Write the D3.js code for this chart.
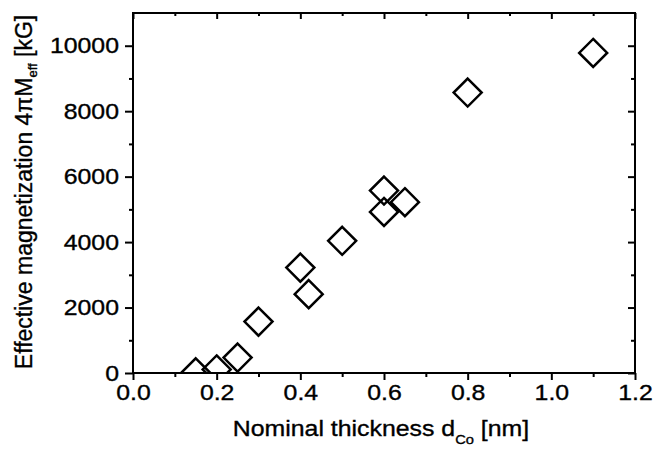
<!DOCTYPE html>
<html>
<head>
<meta charset="utf-8">
<script src="https://cdn.jsdelivr.net/npm/d3@7"></script>
<style>
  html, body { margin: 0; padding: 0; background: #fff; }
  svg { display: block; }
  text { font-family: "Liberation Sans", Arial, sans-serif; fill: #000; stroke: #000; stroke-width: 0.35px; }
</style>
</head>
<body>
<div id="chart"></div>
<script>
// thickness d_Co (nm) and effective magnetization 4piMeff (kG)
const thickness = [0.15, 0.20, 0.25, 0.30, 0.40, 0.42, 0.50, 0.60, 0.60, 0.65, 0.80, 1.10];
const magnetization = [20, 110, 470, 1570, 3220, 2410, 4040, 5575, 4920, 5220, 8570, 9780];

const xMajorTicks = [0, 0.2, 0.4, 0.6, 0.8, 1.0, 1.2];
const xMinorTicks = [0.1, 0.3, 0.5, 0.7, 0.9, 1.1];
const yMajorTicks = [0, 2000, 4000, 6000, 8000, 10000];
const yMinorTicks = [1000, 3000, 5000, 7000, 9000];

const width = 653, height = 450;
const margin = { top: 13, right: 18, bottom: 77, left: 133 };
const w = width - margin.left - margin.right;
const h = height - margin.top - margin.bottom;
const stretch = 1.13; // the scanned lettering is a bit wider than plain Arial

const svg = d3.select("#chart").append("svg")
    .attr("width", width)
    .attr("height", height);

const g = svg.append("g")
    .attr("transform", `translate(${margin.left},${margin.top})`);

const x = d3.scaleLinear().domain([0, 1.2]).range([0, w]);
const y = d3.scaleLinear().domain([0, 11000]).range([h, 0]);

function styleAxis(sel) {
    sel.selectAll(".domain").remove();
    sel.selectAll(".tick line").attr("stroke", "#000").attr("stroke-width", 2);
    sel.selectAll(".tick text").style("font-size", "22px").attr("fill", "#000");
}

// bottom axis
g.append("g").attr("transform", `translate(0,${h})`)
    .call(d3.axisBottom(x).tickValues(xMajorTicks).tickSize(7).tickPadding(4)
        .tickFormat(d3.format(".1f")))
    .call(styleAxis)
    .selectAll(".tick text")
    .attr("transform", `scale(${stretch},1)`);
g.append("g").attr("transform", `translate(0,${h})`)
    .call(d3.axisBottom(x).tickValues(xMinorTicks).tickSize(4).tickFormat(""))
    .call(styleAxis);

// left axis
g.append("g")
    .call(d3.axisLeft(y).tickValues(yMajorTicks).tickSize(8).tickPadding(6)
        .tickFormat(d3.format("d")))
    .call(styleAxis)
    .selectAll(".tick text")
    .attr("x", -14 / stretch)
    .attr("transform", `scale(${stretch},1)`);
g.append("g")
    .call(d3.axisLeft(y).tickValues(yMinorTicks).tickSize(4).tickFormat(""))
    .call(styleAxis);

// top axis, ticks pointing inward
g.append("g")
    .call(d3.axisTop(x).tickValues(xMajorTicks).tickSize(-6).tickFormat(""))
    .call(styleAxis);
g.append("g")
    .call(d3.axisTop(x).tickValues(xMinorTicks).tickSize(-3).tickFormat(""))
    .call(styleAxis);

// right axis, ticks pointing inward
g.append("g").attr("transform", `translate(${w},0)`)
    .call(d3.axisRight(y).tickValues(yMajorTicks).tickSize(-7).tickFormat(""))
    .call(styleAxis);
g.append("g").attr("transform", `translate(${w},0)`)
    .call(d3.axisRight(y).tickValues(yMinorTicks).tickSize(-4).tickFormat(""))
    .call(styleAxis);

// frame
g.append("rect")
    .attr("width", w)
    .attr("height", h)
    .attr("fill", "none")
    .attr("stroke", "#000")
    .attr("stroke-width", 2);

// clip the markers to the plot area
svg.append("defs").append("clipPath")
    .attr("id", "plot-clip")
    .append("rect")
    .attr("width", w)
    .attr("height", h);

const points = thickness.map((d, i) => ({ d: d, m: magnetization[i] }));

g.append("g")
    .attr("clip-path", "url(#plot-clip)")
    .selectAll("path")
    .data(points)
    .enter()
    .append("path")
    .attr("transform", d => `translate(${x(d.d)},${y(d.m)})`)
    .attr("d", "M0,-14L14,0L0,14L-14,0Z")
    .attr("fill", "none")
    .attr("stroke", "#000")
    .attr("stroke-width", 2.5)
    .attr("stroke-linejoin", "miter");

// x axis title
const xt = svg.append("text")
    .attr("transform", `translate(${margin.left + w / 2 - 3},436) scale(${stretch},1)`)
    .attr("text-anchor", "middle")
    .style("font-size", "22px");
xt.append("tspan").text("Nominal thickness d");
xt.append("tspan").attr("dy", 8).style("font-size", "13px").text("Co");
xt.append("tspan").attr("dy", -8).text(" [nm]");

// y axis title
const yt = svg.append("text")
    .attr("transform", `translate(32,${margin.top + h / 2 - 1}) rotate(-90)`)
    .attr("text-anchor", "middle")
    .style("font-size", "23px");
yt.append("tspan").text("Effective magnetization 4\u03C0M");
yt.append("tspan").attr("dy", 5).style("font-size", "13px").text("eff");
yt.append("tspan").attr("dy", -5).text(" [kG]");
</script>
</body>
</html>
